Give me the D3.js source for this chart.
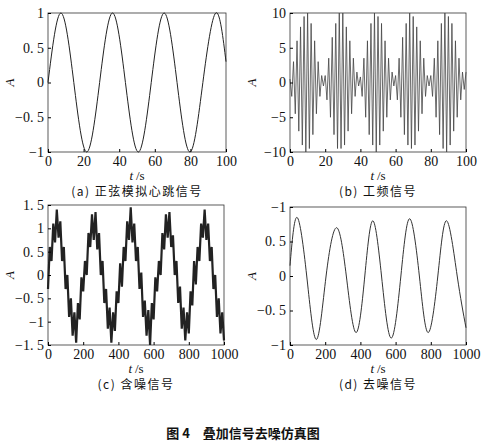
<!doctype html>
<html>
<head>
<meta charset="UTF-8">
<script src="https://cdn.jsdelivr.net/npm/d3@7"></script>
<style>
body{margin:0;background:#fff;}
text{font-family:"Liberation Serif","DejaVu Serif",serif;fill:#111;}
.cap{font-family:"Noto Sans CJK SC",sans-serif;}
</style>
</head>
<body>
<svg id="fig" width="487" height="442"></svg>
<script>
// (a) sine heartbeat, key points
var aT = [0, 7.25, 14.5, 21.75, 29, 36.25, 43.5, 50.75, 58, 65.25, 72.5, 79.75, 87, 94.25, 100];
var aV = [0, 1, 0, -1, 0, 1, 0, -1, 0, 1, 0, -1, 0, 1, 0.3];
// (b) mains interference, one sample per second
var bV = [0.5,-2,3,-4.5,6,-7,8,-9,9.5,-10,10,-9.5,8.5,-7.5,6,-4.5,3,-2,1,-0.5,
          1,-2.5,3.5,-5,6.5,-7.5,8.5,-9.5,10,-9.5,10,-9,8,-7,6,-4.5,3.5,-2,1.5,-0.5,
          0.8,-2,3.5,-5,6,-7.5,8.5,-9,10,-10,9.5,-9,8.5,-7,6,-5,3.5,-2.5,1.5,-0.5,
          1,-2.5,3.5,-5,6.5,-7.5,8.5,-9,10,-9.5,9.5,-9,8,-7,6,-4.5,3.5,-2,1,-0.5,
          1,-2,3.5,-5,6,-7.5,8.5,-9.5,10,-10,9.5,-9,8.5,-7,6,-5,3.5,-2.5,1.5,-1,1.5];
// (c) noisy signal, every 10 s
var cV = [-0.3,0.6,0.3,1.1,0.7,1.4,0.8,1.15,0.3,0.6,-0.3,0.0,-0.9,-0.5,-1.3,-0.8,-1.45,-0.6,-0.95,-0.05,-0.35,
          0.3,0.0,0.9,0.6,1.3,0.75,1.35,0.55,0.9,0.0,0.3,-0.6,-0.3,-1.15,-0.7,-1.45,-0.8,-1.2,-0.35,-0.6,0.25,
          -0.25,0.6,0.3,1.15,0.75,1.45,0.7,1.1,0.3,0.6,-0.3,0.05,-0.9,-0.55,-1.3,-0.75,-1.5,-0.6,-0.95,-0.05,-0.35,
          0.3,0.0,0.9,0.55,1.3,0.8,1.35,0.6,0.85,0.0,0.3,-0.6,-0.25,-1.15,-0.7,-1.4,-0.8,-1.25,-0.35,-0.65,0.3,
          -0.2,0.6,0.3,1.1,0.8,1.4,0.75,1.1,0.3,0.6,-0.3,0.0,-0.9,-0.5,-1.25,-0.8,-1.4];
// (d) denoised signal, key points
var dT = [0, 40, 95, 150, 205, 265, 320, 375, 425, 470, 520, 575, 630, 680, 735, 785, 840, 890, 950, 1000];
var dV = [0.15, 0.85, 0, -0.92, 0, 0.7, 0, -0.82, 0, 0.8, 0, -0.9, 0, 0.83, 0, -0.82, 0, 0.8, 0, -0.75];

var xTicks100 = [0,20,40,60,80,100];
var xTicks1000 = [0,200,400,600,800,1000];
var panels = [
  {box:[48,13,226,152], xd:[0,100], yd:[-1,1], xt:xTicks100, yt:[1,0.5,0,-0.5,-1], yl:["1","0. 5","0","−0. 5","−1"],
   data:aT.map(function(t,i){return [t,aV[i]];}), curve:d3.curveNatural, sw:1, col:"#222", title:"(a) 正弦模拟心跳信号"},
  {box:[290,13,466,152], xd:[0,100], yd:[-10,10], xt:xTicks100, yt:[10,5,0,-5,-10], yl:["10","5","0","−5","−10"],
   data:bV.map(function(v,i){return [i,v];}), curve:d3.curveLinear, sw:0.8, col:"#444", title:"(b) 工频信号"},
  {box:[48,205,224,345], xd:[0,1000], yd:[-1.5,1.5], xt:xTicks1000, yt:[1.5,1,0.5,0,-0.5,-1,-1.5], yl:["1. 5","1","0. 5","0","−0. 5","−1","−1. 5"],
   data:cV.map(function(v,i){return [i*10,v];}), curve:d3.curveLinear, sw:2.2, col:"#222", title:"(c) 含噪信号"},
  {box:[290,207,466,345], xd:[0,1000], yd:[-1,1], xt:xTicks1000, yt:[1,0.5,0,-0.5,-1], yl:["−1","0. 5","0","−0. 5","−1"],
   data:dT.map(function(t,i){return [t,dV[i]];}), curve:d3.curveNatural, sw:1, col:"#333", title:"(d) 去噪信号"}
];

var svg = d3.select("#fig");
panels.forEach(function(p){
  var x = d3.scaleLinear().domain(p.xd).range([p.box[0],p.box[2]]);
  var y = d3.scaleLinear().domain(p.yd).range([p.box[3],p.box[1]]);
  var g = svg.append("g");
  g.append("rect").attr("x",p.box[0]).attr("y",p.box[1])
    .attr("width",p.box[2]-p.box[0]).attr("height",p.box[3]-p.box[1])
    .attr("fill","none").attr("stroke","#333").attr("stroke-width",0.8);
  g.append("path").datum(p.data)
    .attr("d",d3.line().x(function(d){return x(d[0]);}).y(function(d){return y(d[1]);}).curve(p.curve))
    .attr("fill","none").attr("stroke",p.col).attr("stroke-width",p.sw);
  var ya = d3.axisLeft(y).tickValues(p.yt).tickSize(-3).tickPadding(4)
    .tickFormat(function(d,i){return p.yl[i];});
  g.append("g").attr("transform","translate("+p.box[0]+",0)").call(ya)
    .call(function(s){s.select(".domain").remove();s.selectAll("text").style("font-size","14px").style("font-family","Liberation Serif");});
  var xa = d3.axisBottom(x).tickValues(p.xt).tickSize(-3).tickPadding(4).tickFormat(d3.format("d"));
  g.append("g").attr("transform","translate(0,"+p.box[3]+")").call(xa)
    .call(function(s){s.select(".domain").remove();s.selectAll("text").style("font-size","14px").style("font-family","Liberation Serif");});
  var cx = (p.box[0]+p.box[2])/2;
  g.append("text").attr("x",cx-4).attr("y",p.box[3]+28).attr("text-anchor","end")
    .style("font-size","13px").style("font-style","italic").text("t");
  g.append("text").attr("x",cx-1).attr("y",p.box[3]+28).attr("text-anchor","start")
    .style("font-size","13px").text("/s");
  g.append("text").attr("transform","translate("+(p.box[0]-34)+","+((p.box[1]+p.box[3])/2)+") rotate(-90)")
    .attr("text-anchor","middle").style("font-size","13px").style("font-style","italic").text("A");
  g.append("text").attr("class","cap").attr("x",cx).attr("y",p.box[3]+44)
    .attr("text-anchor","middle").style("font-size","12px").style("letter-spacing","1.5px").text(p.title);
});
svg.append("text").attr("class","cap").attr("x",243).attr("y",438).attr("text-anchor","middle")
  .style("font-size","13px").style("font-weight","bold").text("图 4　叠加信号去噪仿真图");
</script>
</body>
</html>
